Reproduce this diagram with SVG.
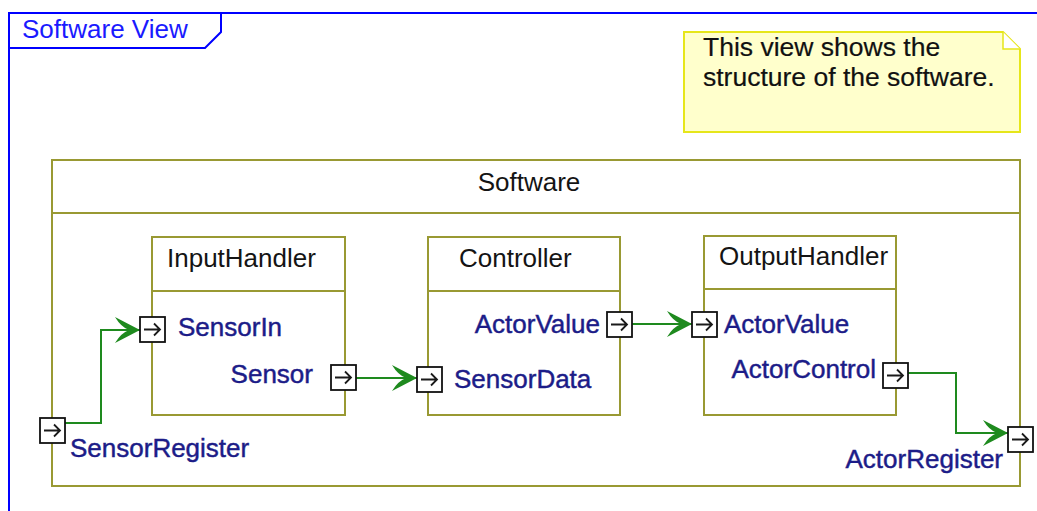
<svg xmlns="http://www.w3.org/2000/svg" width="1037" height="511" viewBox="0 0 1037 511">
  <style>
    .frame { fill: none; stroke: #0000ff; stroke-width: 2; }
    .title { font-family: "Liberation Sans", Arial, sans-serif; font-size: 26px; fill: #1a1aff; }
    .note { fill: #ffffcc; stroke: #e6e61a; stroke-width: 2; }
    .note-text { font-family: "Liberation Sans", Arial, sans-serif; font-size: 26.5px; fill: #111111; stroke: #111111; stroke-width: 0.2; }
    .box { fill: #ffffff; stroke: #999933; stroke-width: 2; }
    .name { font-family: "Liberation Sans", Arial, sans-serif; font-size: 26px; fill: #141414; }
    .port-label { font-family: "Liberation Sans", Arial, sans-serif; font-size: 26px; fill: #1c1c88; stroke: #1c1c88; stroke-width: 0.45; }
    .port-box { fill: #ffffff; stroke: #111111; stroke-width: 1.8; }
    .port-arrow { fill: none; stroke: #1a1a1a; stroke-width: 1.8; }
    .wire { fill: none; stroke: #1e8a1e; stroke-width: 2; marker-end: url(#head); }
  </style>
  <defs>
    <marker id="head" markerUnits="userSpaceOnUse" viewBox="-28 -15 30 30" refX="0" refY="0" markerWidth="30" markerHeight="30" orient="auto" overflow="visible">
      <path d="M0,0 L-25,-13 Q-19,-3 -11,0 Q-19,3 -25,13 Z" fill="#1e8a1e"/>
    </marker>
    <g id="port">
      <rect class="port-box" x="0" y="0" width="25" height="25"/>
      <path class="port-arrow" d="M4,12.5 H20 M14,6.5 L20,12.5 L14,18.5"/>
    </g>
  </defs>

  <rect width="1037" height="511" fill="#ffffff"/>

  <!-- diagram frame with title tab -->
  <g id="frame">
    <path class="frame" d="M9,511 V13 H1037"/>
    <path class="frame" d="M9,48 H205 L221,32 V13"/>
    <text class="title" x="22" y="38">Software View</text>
  </g>

  <!-- comment note -->
  <g id="note">
    <path class="note" d="M684,32 H1003 L1020,49 V132 H684 Z"/>
    <path d="M1003,32 V49 H1020" fill="#ffffff" stroke="#e6e61a" stroke-width="1.5"/>
    <text class="note-text" x="703" y="56">This view shows the</text>
    <text class="note-text" x="703" y="86">structure of the software.</text>
  </g>

  <!-- enclosing component -->
  <g id="software">
    <rect class="box" x="52" y="160" width="968" height="326"/>
    <line x1="52" y1="213" x2="1020" y2="213" stroke="#999933" stroke-width="2"/>
    <text class="name" x="529" y="191" text-anchor="middle">Software</text>
  </g>

  <g id="inputhandler">
    <rect class="box" x="152" y="237" width="193" height="178"/>
    <line x1="152" y1="291" x2="345" y2="291" stroke="#999933" stroke-width="2"/>
    <text class="name" x="167" y="267">InputHandler</text>
  </g>

  <g id="controller">
    <rect class="box" x="428" y="237" width="192" height="178"/>
    <line x1="428" y1="291" x2="620" y2="291" stroke="#999933" stroke-width="2"/>
    <text class="name" x="459" y="267">Controller</text>
  </g>

  <g id="outputhandler">
    <rect class="box" x="704" y="236" width="192" height="179"/>
    <line x1="704" y1="289" x2="896" y2="289" stroke="#999933" stroke-width="2"/>
    <text class="name" x="719" y="265">OutputHandler</text>
  </g>

  <!-- connectors -->
  <g id="connectors">
    <path class="wire" d="M65,423 H101 V330 H140"/>
    <path class="wire" d="M356,378 H417"/>
    <path class="wire" d="M632,324 H692"/>
    <path class="wire" d="M908,373 H956 V433 H1008"/>
  </g>

  <!-- ports -->
  <g id="port-sensorregister">
    <use href="#port" x="40" y="418"/>
    <text class="port-label" x="70" y="457">SensorRegister</text>
  </g>
  <g id="port-sensorin">
    <use href="#port" x="140" y="317"/>
    <text class="port-label" x="178" y="336">SensorIn</text>
  </g>
  <g id="port-sensor">
    <use href="#port" x="331" y="365"/>
    <text class="port-label" x="313" y="383" text-anchor="end">Sensor</text>
  </g>
  <g id="port-sensordata">
    <use href="#port" x="417" y="367"/>
    <text class="port-label" x="454" y="388">SensorData</text>
  </g>
  <g id="port-actorvalue-out">
    <use href="#port" x="607" y="312"/>
    <text class="port-label" x="600" y="333" text-anchor="end">ActorValue</text>
  </g>
  <g id="port-actorvalue-in">
    <use href="#port" x="692" y="312"/>
    <text class="port-label" x="724" y="333">ActorValue</text>
  </g>
  <g id="port-actorcontrol">
    <use href="#port" x="883" y="363"/>
    <text class="port-label" x="876" y="378" text-anchor="end">ActorControl</text>
  </g>
  <g id="port-actorregister">
    <use href="#port" x="1008" y="427"/>
    <text class="port-label" x="1003" y="468" text-anchor="end">ActorRegister</text>
  </g>
</svg>
